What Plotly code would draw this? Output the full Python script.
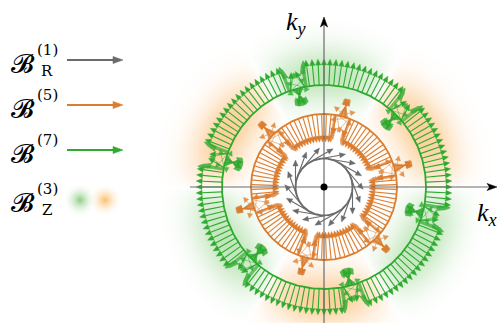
import numpy as np
import plotly.graph_objects as go

# ---------------- data ----------------
ring_names = ["B_R1", "B5", "B7"]
ring_colors = ["#6a6a6a", "#db7d30", "#2eaa2e"]
ring_radius = [28.5, 73.0, 102.0]          # k-space radius of each shell (px units)
ring_main_len = [27.0, 28.0, 26.0]         # arrow length away from the nodes
ring_node_deg = [None, 15.0, 45.0]         # angular position of first node (6-fold)
ring_node_dir = [None, +1, -1]             # +1: node arrows point outward, -1: inward
ring_n_arrows = [18, 96, 132]
flame_height = [None, 9.0, 8.0]            # focal height of node flames
flame_half = [None, 5.0, 6.0]              # half-width of flame base (arc px)
flame_over = [None, 9.0, 10.0]             # overshoot of flame arrows past the focus
turn_span = [None, 1.5, 1.5]               # arc px over which arrows swing back
grow_span = [None, 2.5, 2.5]               # arc px over which arrows regain length
short_len = [None, 18.0, 18.0]             # arrow length while swinging
bz_peak_radius = 112.0
bz_width = 28.0

legend_labels = ["(1)", "(5)", "(7)", "(3)"]
legend_subs = ["R", "", "", "Z"]

# ---------------- helpers ----------------
def build_arrows(theta, phi, L, R, hl, hw):
    x0 = R * np.cos(theta); y0 = R * np.sin(theta)
    ux = np.cos(phi); uy = np.sin(phi)
    x1 = x0 + L * ux; y1 = y0 + L * uy
    hlv = np.minimum(hl, L)
    xb = x1 - hlv * ux; yb = y1 - hlv * uy
    nx, ny = -uy, ux
    sx, sy, hx, hy = [], [], [], []
    for i in range(len(theta)):
        sx += [float(x0[i]), float(xb[i]), None]; sy += [float(y0[i]), float(yb[i]), None]
        hx += [float(x1[i]), float(xb[i] + hw * nx[i]), float(xb[i] - hw * nx[i]), float(x1[i]), None]
        hy += [float(y1[i]), float(yb[i] + hw * ny[i]), float(yb[i] - hw * ny[i]), float(y1[i]), None]
    return sx, sy, hx, hy


def ring_field(k, theta):
    R = ring_radius[k]
    if k == 0:
        return theta - np.pi / 2, np.full_like(theta, ring_main_len[0])
    tb = np.deg2rad(ring_node_deg[k])
    tp = np.mod(theta - tb + np.pi / 6, np.pi / 3) - np.pi / 6
    d = R * tp
    a = np.abs(d); s = np.sign(d)
    hf, Df, ov = flame_height[k], flame_half[k], flame_over[k]
    d0 = np.arctan(Df / hf)
    u = np.clip((a - Df) / turn_span[k], 0, 1)
    g = np.clip((a - Df - turn_span[k]) / grow_span[k], 0, 1)
    g = g * g * (3 - 2 * g)
    delta = np.where(a <= Df, np.arctan(a / hf), d0 + (np.pi - d0) * u)
    L_out = short_len[k] + (ring_main_len[k] - short_len[k]) * g
    L = np.where(a <= Df, np.hypot(a, hf) + ov, L_out)
    nd = ring_node_dir[k]
    rx, ry = np.cos(theta) * nd, np.sin(theta) * nd
    tx, ty = -np.sin(theta), np.cos(theta)
    vx = np.cos(delta) * rx - np.sin(delta) * s * tx
    vy = np.cos(delta) * ry - np.sin(delta) * s * ty
    return np.arctan2(vy, vx), L


fig = go.Figure()

# ---------------- B_Z background ----------------
gg = np.arange(-180, 181, 2.5)
X, Y = np.meshgrid(gg, gg)
Rr = np.hypot(X, Y); T = np.arctan2(Y, X)
prof = np.exp(-((Rr - bz_peak_radius) / bz_width) ** 2)
ang = -np.sin(3 * T)
Z = prof * np.sign(ang) * np.abs(ang) ** 0.6
fig.add_trace(go.Heatmap(x=gg, y=gg, z=Z, zmin=-1, zmax=1, zsmooth="best", showscale=False,
                         hoverinfo="skip",
                         colorscale=[[0, "rgb(252,208,155)"], [0.5, "rgb(255,255,255)"],
                                     [1, "rgb(192,230,186)"]]))

# ---------------- rings ----------------
for k in [2, 1, 0]:
    col = ring_colors[k]
    R = ring_radius[k]
    tc = np.linspace(0, 2 * np.pi, 361)
    fig.add_trace(go.Scatter(x=R * np.cos(tc), y=R * np.sin(tc), mode="lines",
                             line=dict(color=col, width=1.8), hoverinfo="skip"))
    th = np.linspace(0, 2 * np.pi, ring_n_arrows[k], endpoint=False)
    if k > 0:
        th = th + np.deg2rad(ring_node_deg[k]) + np.pi / ring_n_arrows[k]
    phi, L = ring_field(k, th)
    sx, sy, hx, hy = build_arrows(th, phi, L, R, 6.0, 2.6)
    fig.add_trace(go.Scatter(x=sx, y=sy, mode="lines",
                             line=dict(color=col, width=1.1, simplify=False),
                             hoverinfo="skip"))
    fig.add_trace(go.Scatter(x=hx, y=hy, mode="lines", fill="toself", fillcolor=col,
                             line=dict(color=col, width=0.4, simplify=False), hoverinfo="skip"))
    if k > 0:
        # dense arrows around the nodes
        nn = 41 if k == 1 else 51
        off = np.linspace(-flame_half[k] - 4, flame_half[k] + 4, nn) / R
        th2 = np.concatenate([np.deg2rad(ring_node_deg[k]) + j * np.pi / 3 + off for j in range(6)])
        phi2, L2 = ring_field(k, th2)
        sx, sy, hx, hy = build_arrows(th2, phi2, L2, R, 5.0, 2.7)
        fig.add_trace(go.Scatter(x=sx, y=sy, mode="lines",
                                 line=dict(color=col, width=0.6, simplify=False),
                                 opacity=0.85, hoverinfo="skip"))
        fig.add_trace(go.Scatter(x=hx, y=hy, mode="lines", fill="toself", fillcolor=col,
                                 opacity=0.8, line=dict(color=col, width=0.3, simplify=False),
                                 hoverinfo="skip"))

# ---------------- k axes ----------------
axc = "#6b6b6b"
fig.add_trace(go.Scatter(x=[-134, 166], y=[0, 0], mode="lines", line=dict(color=axc, width=1.2),
                         hoverinfo="skip"))
fig.add_trace(go.Scatter(x=[0, 0], y=[-140, 162], mode="lines", line=dict(color=axc, width=1.2),
                         hoverinfo="skip"))
fig.add_trace(go.Scatter(x=[173, 163, 165.5, 163, 173, None, 0, -3.6, 0, 3.6, 0],
                         y=[0, 3.6, 0, -3.6, 0, None, 170, 160, 162.5, 160, 170],
                         mode="lines", fill="toself", fillcolor="black",
                         line=dict(color="black", width=0.5), hoverinfo="skip"))
fig.add_trace(go.Scatter(x=[0], y=[0], mode="markers", marker=dict(color="black", size=7),
                         hoverinfo="skip"))

# ---------------- legend ----------------
leg_y = [127, 82, 37]
for k in range(3):
    col = ring_colors[k]
    sx, sy, hx, hy = build_arrows(np.array([0.0]), np.array([0.0]), np.array([56.0]), 0.0, 10.0, 3.6)
    sx = [p - 257 if p is not None else None for p in sx]
    hx = [p - 257 if p is not None else None for p in hx]
    sy = [p + leg_y[k] if p is not None else None for p in sy]
    hy = [p + leg_y[k] if p is not None else None for p in hy]
    fig.add_trace(go.Scatter(x=sx, y=sy, mode="lines", line=dict(color=col, width=2.2),
                             hoverinfo="skip"))
    fig.add_trace(go.Scatter(x=hx, y=hy, mode="lines", fill="toself", fillcolor=col,
                             line=dict(color=col, width=0.5), hoverinfo="skip"))
fig.add_trace(go.Scatter(x=[-244, -219], y=[-13, -13], mode="markers", hoverinfo="skip",
                         marker=dict(size=34, color="rgba(255,255,255,0)",
                                     line=dict(width=0),
                                     gradient=dict(type="radial",
                                                   color=["rgba(140,205,130,1)",
                                                          "rgba(253,190,110,1)"]))))

ann = []
bfont = dict(family="DejaVu Serif", size=26, color="black")
sfont = dict(family="DejaVu Serif", size=15, color="black")
lab_y = [123, 78, 33, -16]
for i in range(4):
    ann.append(dict(x=-301, y=lab_y[i], text="𝓑", showarrow=False, font=bfont,
                    xref="x", yref="y"))
    ann.append(dict(x=-277, y=lab_y[i] + 14, text=legend_labels[i], showarrow=False, font=sfont,
                    xref="x", yref="y"))
    if legend_subs[i]:
        ann.append(dict(x=-277, y=lab_y[i] - 7, text=legend_subs[i], showarrow=False, font=sfont,
                        xref="x", yref="y"))
ann.append(dict(x=-28, y=164, xref="x", yref="y", showarrow=False,
                text="<i>k</i><sub><i>y</i></sub>",
                font=dict(family="Liberation Serif", size=26, color="black")))
ann.append(dict(x=163, y=-27, xref="x", yref="y", showarrow=False,
                text="<i>k</i><sub><i>x</i></sub>",
                font=dict(family="Liberation Serif", size=26, color="black")))

fig.update_layout(width=501, height=323, margin=dict(l=0, r=0, t=0, b=0),
                  paper_bgcolor="white", plot_bgcolor="white", showlegend=False,
                  annotations=ann,
                  xaxis=dict(range=[-324, 177], visible=False, fixedrange=True),
                  yaxis=dict(range=[-136, 187], visible=False, fixedrange=True))
fig.write_html("out.html")
